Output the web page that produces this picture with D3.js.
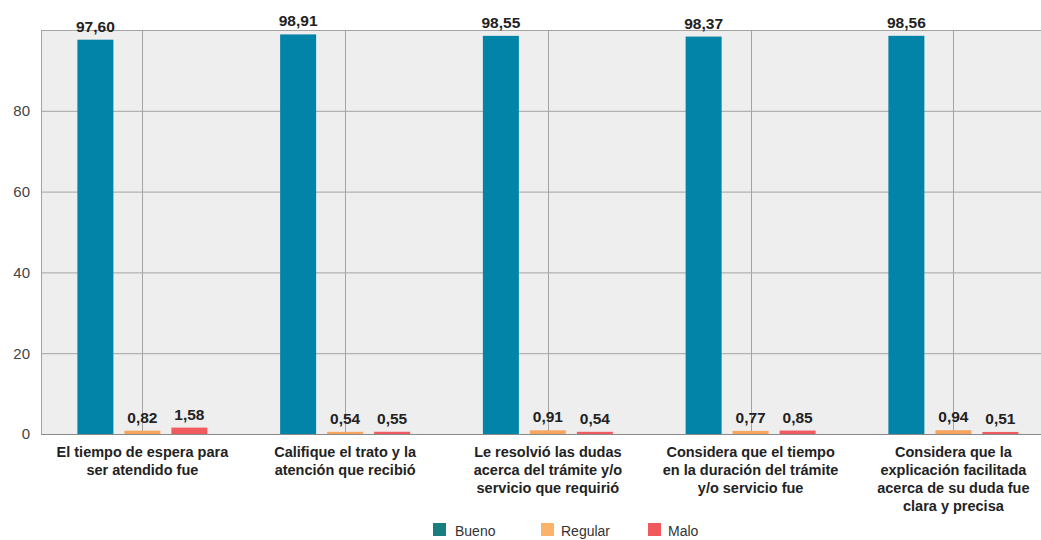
<!DOCTYPE html>
<html><head><meta charset="utf-8">
<script src="https://cdn.jsdelivr.net/npm/d3@7"></script>
<style>
html,body{margin:0;padding:0;background:#fff;}
svg{display:block;font-family:"Liberation Sans",Arial,sans-serif;}
</style></head>
<body>
<svg id="chart" width="1041" height="540"></svg>
<script>
const categories = [
  ["El tiempo de espera para","ser atendido fue"],
  ["Califique el trato y la","atención que recibió"],
  ["Le resolvió las dudas","acerca del trámite y/o","servicio que requirió"],
  ["Considera que el tiempo","en la duración del trámite","y/o servicio fue"],
  ["Considera que la","explicación facilitada","acerca de su duda fue","clara y precisa"]
];
const seriesNames = ["Bueno","Regular","Malo"];
const bueno   = [97.60, 98.91, 98.55, 98.37, 98.56];
const regular = [0.82, 0.54, 0.91, 0.77, 0.94];
const malo    = [1.58, 0.55, 0.54, 0.85, 0.51];
const yTicks  = [0, 20, 40, 60, 80];

const barColors = ["#0284a8", "#f7a45e", "#ef5b5e"];
const legendColors = ["#177f7e", "#f9b36b", "#f05a5c"];

const seriesValues = [bueno, regular, malo];
const svg = d3.select("#chart");
const mLeft = 41, mTop = 30, mBottom = 434, step = 202.75;
const idx = categories.map((c,i)=>i);

const x0 = d3.scaleBand().domain(idx).range([mLeft, mLeft + step*categories.length]).padding(0);
const x1 = d3.scaleBand().domain(seriesNames).range([-70.5, 70.5]).paddingInner(11/47).paddingOuter(11/94);
const y = d3.scaleLinear().domain([0, 100]).range([mBottom, mTop]);

// plot background
svg.append("rect").attr("x", mLeft).attr("y", mTop)
  .attr("width", x0.range()[1]-mLeft).attr("height", mBottom-mTop)
  .attr("fill", "#eeeeee");

// horizontal grid
svg.append("g").selectAll("line").data([20,40,60,80,100]).join("line")
  .attr("x1", mLeft).attr("x2", x0.range()[1])
  .attr("y1", d=>y(d)+0.5).attr("y2", d=>y(d)+0.5)
  .attr("stroke", "#a3a3a3").attr("stroke-width", 1);
// vertical grid at category centers
svg.append("g").selectAll("line").data(idx).join("line")
  .attr("x1", d=>Math.round(x0(d)+x0.bandwidth()/2)+0.5)
  .attr("x2", d=>Math.round(x0(d)+x0.bandwidth()/2)+0.5)
  .attr("y1", mTop).attr("y2", mBottom)
  .attr("stroke", "#a3a3a3").attr("stroke-width", 1);
// left border
svg.append("line").attr("x1", mLeft+0.5).attr("x2", mLeft+0.5).attr("y1", mTop).attr("y2", mBottom)
  .attr("stroke", "#a3a3a3");

// bars
const groups = svg.append("g").selectAll("g").data(idx).join("g")
  .attr("transform", d=>`translate(${x0(d)+x0.bandwidth()/2},0)`);
seriesNames.forEach((s, si) => {
  groups.append("rect")
    .attr("x", x1(s)).attr("width", x1.bandwidth())
    .attr("y", d=>y(seriesValues[si][d]))
    .attr("height", d=>mBottom - y(seriesValues[si][d]))
    .attr("fill", barColors[si]);
  groups.append("text")
    .attr("x", x1(s) + x1.bandwidth()/2)
    .attr("y", d=>y(seriesValues[si][d]) - 8)
    .attr("text-anchor", "middle")
    .attr("font-size", "15.5px").attr("font-weight", "bold").attr("fill", "#222")
    .text(d=>seriesValues[si][d].toFixed(2).replace(".", ","));
});

// x axis line
svg.append("line").attr("x1", mLeft).attr("x2", x0.range()[1])
  .attr("y1", mBottom+0.5).attr("y2", mBottom+0.5).attr("stroke", "#8a8a8a");

// y axis
const yAxis = d3.axisLeft(y).tickValues(yTicks).tickSize(0).tickPadding(11);
const ya = svg.append("g").attr("transform", `translate(${mLeft},0)`).call(yAxis);
ya.select(".domain").remove();
ya.selectAll("text").attr("font-size", "15px").attr("fill", "#444")
  .attr("font-family", "'Liberation Sans',Arial,sans-serif");

// category labels
const cl = svg.append("g").selectAll("text").data(idx).join("text")
  .attr("x", d=>x0(d)+x0.bandwidth()/2)
  .attr("y", 457)
  .attr("text-anchor", "middle")
  .attr("font-size", "14.5px").attr("font-weight", "bold").attr("fill", "#222");
cl.selectAll("tspan").data(d=>categories[d]).join("tspan")
  .attr("x", function(){ return this.parentNode.getAttribute("x"); })
  .attr("dy", (d,i)=> i===0 ? 0 : 18)
  .text(d=>d);

// legend
const legendX = [433, 541, 648];
const lg = svg.append("g").selectAll("g").data(seriesNames).join("g")
  .attr("transform", (d,i)=>`translate(${legendX[i]},523)`);
lg.append("rect").attr("width", 13).attr("height", 13).attr("fill", (d,i)=>legendColors[i]);
lg.append("text").attr("x", (d,i)=> i===0 ? 22 : 20).attr("y", 13)
  .attr("font-size", "14px").attr("fill", "#333").text(d=>d);
</script>
</body></html>
